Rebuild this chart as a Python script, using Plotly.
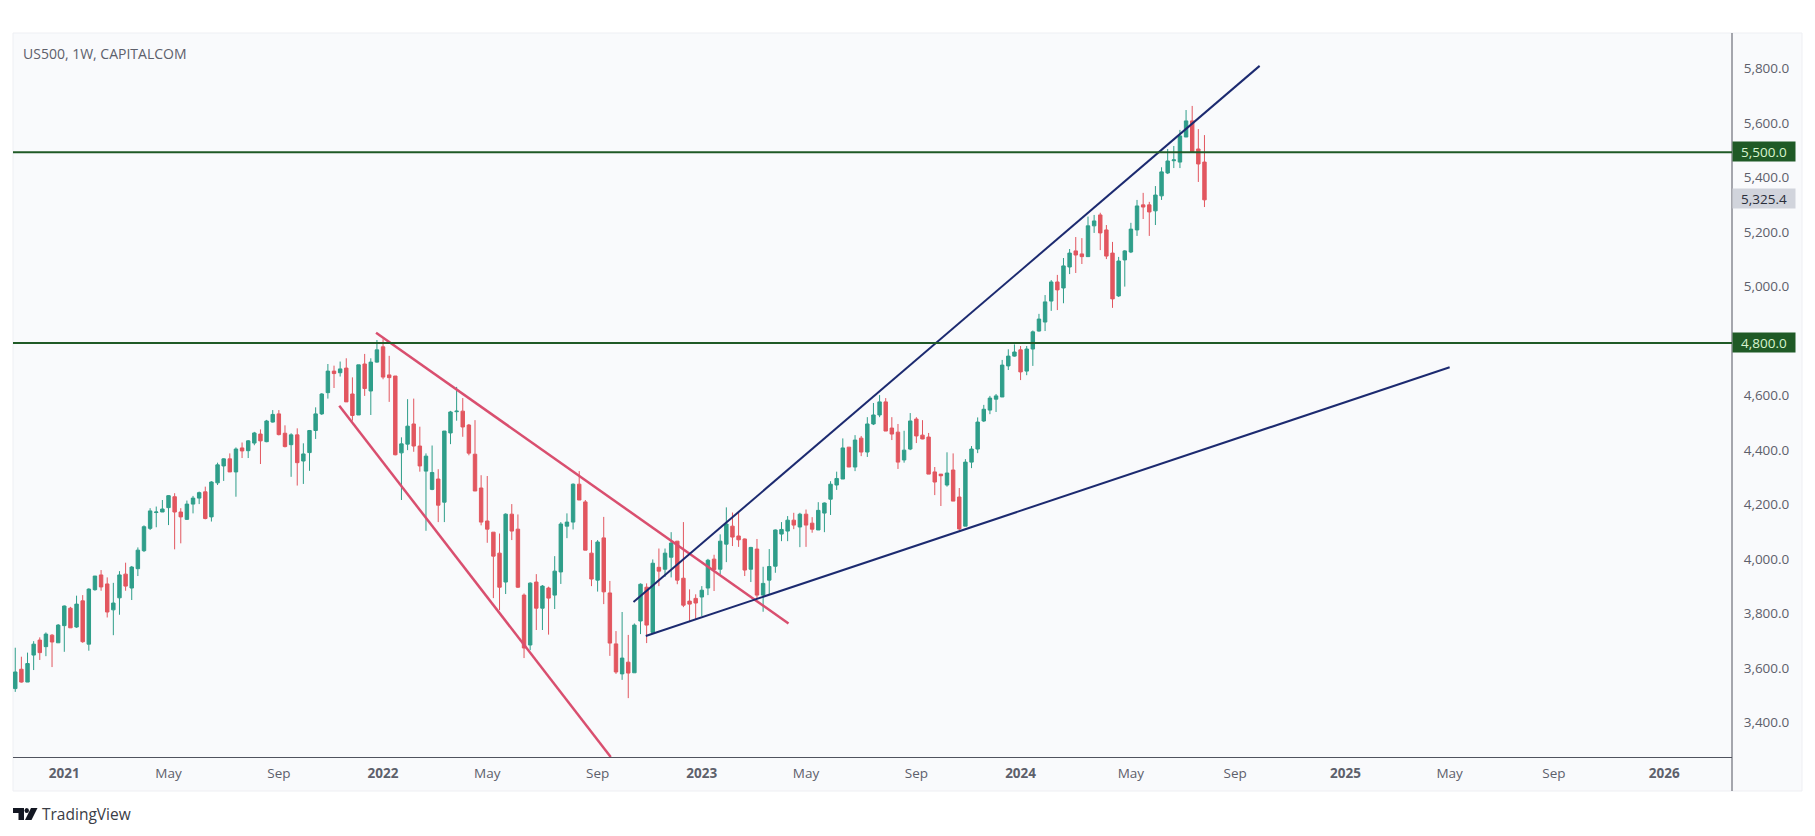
import pandas as pd
import plotly.graph_objects as go

# weekly bars, last one is the week of 2024-07-29
week_dates = pd.date_range(end="2024-07-29", periods=195, freq="W-MON")

opens = [
    3532, 3603, 3556, 3655, 3710, 3686, 3728, 3700, 3763, 3827, 3758, 3854, 3695, 3895, 3949, 3916, 3821, 3865, 3952, 3901,
    3972, 4038, 4120, 4178, 4180, 4196, 4236, 4180, 4153, 4209, 4231, 4254, 4162, 4287, 4349, 4375, 4327, 4415, 4405, 4433,
    4466, 4438, 4510, 4540, 4469, 4427, 4463, 4367, 4398, 4479, 4540, 4618, 4697, 4691, 4708, 4613, 4536, 4723, 4624, 4730,
    4786, 4683, 4679, 4397, 4429, 4503, 4422, 4330, 4263, 4301, 4216, 4470, 4548, 4550, 4499, 4392, 4268, 4147, 4106, 4029,
    3923, 4172, 4117, 3875, 3692, 3923, 3827, 3901, 3875, 3960, 4128, 4143, 4282, 4217, 4029, 3930, 4085, 3883, 3696, 3586,
    3629, 3590, 3780, 3904, 3738, 3977, 3970, 4014, 4073, 3937, 3853, 3863, 3868, 3901, 4007, 3970, 4062, 4128, 4092, 4081,
    3970, 4044, 3875, 3930, 3981, 4099, 4110, 4150, 4125, 4172, 4139, 4114, 4176, 4227, 4279, 4301, 4418, 4345, 4451, 4400,
    4503, 4536, 4584, 4488, 4473, 4371, 4411, 4521, 4462, 4455, 4327, 4319, 4279, 4334, 4235, 4128, 4363, 4411, 4514, 4554,
    4594, 4602, 4716, 4752, 4775, 4697, 4778, 4844, 4877, 4954, 5024, 5002, 5079, 5138, 5127, 5117, 5230, 5270, 5215, 5130,
    4973, 5105, 5134, 5215, 5307, 5307, 5285, 5340, 5424, 5469, 5464, 5556, 5615, 5512, 5464,
]
highs = [
    3682, 3649, 3664, 3706, 3720, 3738, 3732, 3769, 3837, 3832, 3873, 3875, 3900, 3945, 3967, 3940, 3920, 3963, 3994, 3982,
    4050, 4131, 4194, 4200, 4224, 4242, 4249, 4194, 4222, 4239, 4255, 4273, 4293, 4361, 4377, 4395, 4417, 4435, 4444, 4474,
    4483, 4518, 4554, 4554, 4498, 4469, 4487, 4432, 4481, 4564, 4616, 4723, 4717, 4732, 4744, 4674, 4720, 4760, 4744, 4811,
    4814, 4753, 4679, 4454, 4594, 4596, 4493, 4395, 4424, 4337, 4477, 4551, 4639, 4598, 4503, 4517, 4315, 4312, 4106, 4101,
    4175, 4209, 4171, 3881, 3922, 3952, 3912, 3906, 4018, 4143, 4175, 4285, 4330, 4224, 4077, 4077, 4162, 3927, 3743, 3813,
    3729, 3771, 3918, 3918, 4006, 4046, 4046, 4106, 4073, 4143, 3896, 3878, 3908, 4008, 4023, 4098, 4197, 4178, 4178, 4083,
    4052, 4081, 3979, 4044, 4116, 4143, 4165, 4177, 4177, 4189, 4161, 4216, 4215, 4293, 4328, 4450, 4418, 4462, 4459, 4528,
    4580, 4609, 4598, 4528, 4503, 4478, 4543, 4528, 4517, 4470, 4345, 4319, 4399, 4395, 4268, 4374, 4422, 4527, 4573, 4606,
    4613, 4738, 4777, 4795, 4789, 4789, 4846, 4907, 4976, 5031, 5050, 5112, 5145, 5189, 5185, 5264, 5270, 5278, 5233, 5171,
    5116, 5141, 5241, 5325, 5351, 5318, 5376, 5445, 5512, 5523, 5582, 5655, 5670, 5585, 5563,
]
lows = [
    3520, 3554, 3556, 3600, 3637, 3651, 3611, 3700, 3667, 3755, 3755, 3700, 3671, 3891, 3891, 3793, 3728, 3803, 3891, 3857,
    3945, 4033, 4114, 4124, 4180, 4132, 4043, 4065, 4151, 4175, 4209, 4153, 4145, 4279, 4294, 4327, 4236, 4378, 4378, 4425,
    4356, 4436, 4508, 4461, 4417, 4309, 4277, 4283, 4331, 4448, 4536, 4596, 4635, 4677, 4584, 4515, 4536, 4606, 4536, 4728,
    4667, 4584, 4388, 4224, 4407, 4401, 4328, 4111, 4260, 4143, 4143, 4429, 4515, 4456, 4388, 4257, 4131, 4067, 3864, 3820,
    3879, 4077, 3901, 3644, 3673, 3747, 3747, 3730, 3824, 3916, 4084, 4116, 4224, 4040, 3908, 3888, 3842, 3652, 3586, 3564,
    3497, 3590, 3732, 3699, 3738, 3908, 3942, 3940, 3915, 3831, 3776, 3786, 3798, 3875, 3890, 3952, 3996, 4055, 4052, 3945,
    3923, 3864, 3814, 3879, 3957, 4073, 4073, 4117, 4051, 4052, 4104, 4114, 4106, 4169, 4261, 4301, 4345, 4330, 4385, 4382,
    4499, 4528, 4477, 4444, 4338, 4361, 4407, 4433, 4447, 4319, 4242, 4202, 4273, 4220, 4114, 4128, 4341, 4396, 4510, 4539,
    4547, 4602, 4701, 4750, 4664, 4682, 4716, 4842, 4844, 4918, 4921, 4946, 5053, 5057, 5090, 5117, 5204, 5141, 5108, 4929,
    4969, 5007, 5130, 5193, 5255, 5193, 5233, 5325, 5420, 5442, 5442, 5556, 5501, 5391, 5299,
]
closes = [
    3593, 3556, 3624, 3695, 3664, 3732, 3703, 3765, 3835, 3755, 3842, 3704, 3897, 3945, 3905, 3813, 3846, 3949, 3908, 3978,
    4040, 4126, 4184, 4180, 4191, 4240, 4180, 4162, 4209, 4231, 4251, 4156, 4290, 4353, 4375, 4327, 4411, 4404, 4441, 4470,
    4441, 4514, 4538, 4464, 4420, 4463, 4361, 4393, 4479, 4540, 4613, 4697, 4688, 4705, 4584, 4534, 4720, 4633, 4730, 4775,
    4675, 4673, 4390, 4430, 4495, 4422, 4349, 4385, 4325, 4205, 4477, 4547, 4550, 4492, 4396, 4257, 4143, 4117, 4018, 3904,
    4172, 4110, 3904, 3681, 3919, 3827, 3908, 3864, 3963, 4136, 4143, 4282, 4224, 4040, 3934, 4070, 3887, 3699, 3593, 3644,
    3589, 3765, 3915, 3765, 3992, 3963, 4029, 4066, 3930, 3838, 3842, 3846, 3893, 4003, 3969, 4073, 4136, 4088, 4078, 3967,
    4050, 3875, 3918, 3980, 4114, 4116, 4150, 4132, 4172, 4132, 4117, 4186, 4213, 4282, 4303, 4415, 4345, 4444, 4400, 4503,
    4536, 4584, 4477, 4466, 4363, 4407, 4514, 4459, 4448, 4319, 4290, 4313, 4323, 4220, 4118, 4363, 4411, 4510, 4557, 4598,
    4606, 4719, 4752, 4767, 4694, 4778, 4841, 4888, 4951, 5024, 4995, 5083, 5130, 5123, 5117, 5230, 5248, 5204, 5119, 4962,
    5101, 5138, 5218, 5303, 5299, 5281, 5343, 5428, 5468, 5472, 5560, 5615, 5501, 5457, 5325.4,
]

# hand drawn trend lines: (dates, prices)
red_top_x = ["2021-12-26", "2023-04-11"]
red_top_y = [4838, 3771]
red_low_x = ["2021-11-14", "2022-09-20"]
red_low_y = [4570, 3281]
blue_top_x = ["2022-10-16", "2024-09-30"]
blue_top_y = [3850, 5817]
blue_low_x = ["2022-10-30", "2025-05-05"]
blue_low_y = [3725, 4711]
level_prices = [5500, 4800]
last_price = 5325.4

price_ticks = [3400, 3600, 3800, 4000, 4200, 4400, 4600, 5000, 5200, 5400, 5600, 5800]
month_ticks = [
    "2021-01-04", "2021-05-03", "2021-09-06", "2022-01-03", "2022-05-02", "2022-09-05", "2023-01-02", "2023-05-01",
    "2023-09-04", "2024-01-01", "2024-05-06", "2024-09-02", "2025-01-06", "2025-05-05", "2025-09-01", "2026-01-05",
]
month_labels = [
    "<b>2021</b>", "May", "Sep", "<b>2022</b>", "May", "Sep", "<b>2023</b>", "May",
    "Sep", "<b>2024</b>", "May", "Sep", "<b>2025</b>", "May", "Sep", "<b>2026</b>",
]

W, H = 1815, 836
LEFT, RIGHT, TOP, BOTTOM = 13, 1732, 33, 757
PANEL = "#f9fafc"
AXIS = "#50535e"
TEXT = "#5d606b"
GREEN_DARK = "#1f5a26"
RED_LINE = "#d94f6f"
BLUE_LINE = "#1c2a70"


def px_x(x):
    return (x - LEFT) / (RIGHT - LEFT)


def px_y(y):
    return (BOTTOM - y) / (BOTTOM - TOP)


fig = go.Figure()

fig.add_trace(go.Candlestick(
    x=week_dates, open=opens, high=highs, low=lows, close=closes,
    increasing=dict(line=dict(color="#2f9e8a", width=1), fillcolor="#2f9e8a"),
    decreasing=dict(line=dict(color="#e2565f", width=1), fillcolor="#e2565f"),
    whiskerwidth=0, showlegend=False,
))

for xs, ys, colour, thick in [
    (red_top_x, red_top_y, RED_LINE, 2.5),
    (red_low_x, red_low_y, RED_LINE, 2.5),
    (blue_top_x, blue_top_y, BLUE_LINE, 2),
    (blue_low_x, blue_low_y, BLUE_LINE, 2),
]:
    fig.add_trace(go.Scatter(x=xs, y=ys, mode="lines", line=dict(color=colour, width=thick), showlegend=False))

# chart panel behind everything, including the axis strips
fig.add_shape(type="rect", xref="paper", yref="paper", layer="below",
              x0=0, x1=px_x(1802), y0=px_y(791), y1=1,
              fillcolor=PANEL, line=dict(color="#eeeff3", width=1))
fig.add_shape(type="line", xref="paper", yref="paper", x0=1, x1=1, y0=px_y(791), y1=1,
              line=dict(color=AXIS, width=1))

for level in level_prices:
    fig.add_shape(type="line", xref="paper", yref="y", x0=0, x1=1, y0=level, y1=level,
                  line=dict(color=GREEN_DARK, width=2))
    fig.add_annotation(text=f"{level:,.1f}", xref="paper", yref="y", x=1, y=level, xanchor="left", yshift=1,
                       showarrow=False, width=62, height=19, borderpad=0, bgcolor=GREEN_DARK,
                       font=dict(family="Open Sans", size=13.5, color="#d8f5cf"))

fig.add_annotation(text=f"{last_price:,.1f}", xref="paper", yref="y", x=1, y=last_price, xanchor="left", yshift=1,
                   showarrow=False, width=62, height=19, borderpad=0, bgcolor="#d1d4dc",
                   font=dict(family="Open Sans", size=13.5, color="#2a2e39"))

fig.add_annotation(text="US500, 1W, CAPITALCOM", xref="paper", yref="paper", x=px_x(21), y=px_y(53),
                   xanchor="left", yanchor="middle", showarrow=False,
                   font=dict(family="Open Sans", size=14, color=TEXT))

# TradingView mark and wordmark under the chart
fig.add_annotation(text="TradingView", xref="paper", yref="paper", x=px_x(40), y=px_y(814),
                   xanchor="left", yanchor="middle", showarrow=False,
                   font=dict(family="Open Sans", size=15.5, color="#3a3d46"))
fig.add_shape(type="path", xref="paper", yref="paper", fillcolor="#131722", line_width=0,
              path=f"M{px_x(13)},{px_y(808)} H{px_x(24)} V{px_y(820)} H{px_x(18.5)} V{px_y(813)} H{px_x(13)} Z")
fig.add_shape(type="circle", xref="paper", yref="paper", fillcolor="#131722", line_width=0,
              x0=px_x(24.5), x1=px_x(29), y0=px_y(813), y1=px_y(808))
fig.add_shape(type="path", xref="paper", yref="paper", fillcolor="#131722", line_width=0,
              path=f"M{px_x(31)},{px_y(808)} H{px_x(37.5)} L{px_x(31.5)},{px_y(820)} H{px_x(25)} Z")

fig.update_layout(
    width=W, height=H,
    margin=dict(l=LEFT, r=W - RIGHT, t=TOP, b=H - BOTTOM),
    paper_bgcolor="#ffffff",
    plot_bgcolor=PANEL,
    boxgap=0.2,
    hovermode=False,
    font=dict(family="Open Sans", size=13.5, color=TEXT),
    xaxis=dict(
        type="date", range=["2020-11-06 10:00", "2026-03-23 10:00"],
        rangeslider=dict(visible=False),
        tickmode="array", tickvals=month_ticks, ticktext=month_labels,
        showgrid=False, zeroline=False, showline=True, linecolor=AXIS, linewidth=1,
        ticks="outside", ticklen=4, tickcolor="rgba(0,0,0,0)",
    ),
    yaxis=dict(
        side="right", range=[3281, 5937.6],
        tickmode="array", tickvals=price_ticks, tickformat=",.1f",
        showgrid=False, zeroline=False, showline=False, ticklabelshift=-2,
        ticks="outside", ticklen=8, tickcolor="rgba(0,0,0,0)",
    ),
)

fig.write_html("out.html", config=dict(displayModeBar=False),
               post_script="document.body.style.margin='0';document.body.style.overflow='hidden';")
